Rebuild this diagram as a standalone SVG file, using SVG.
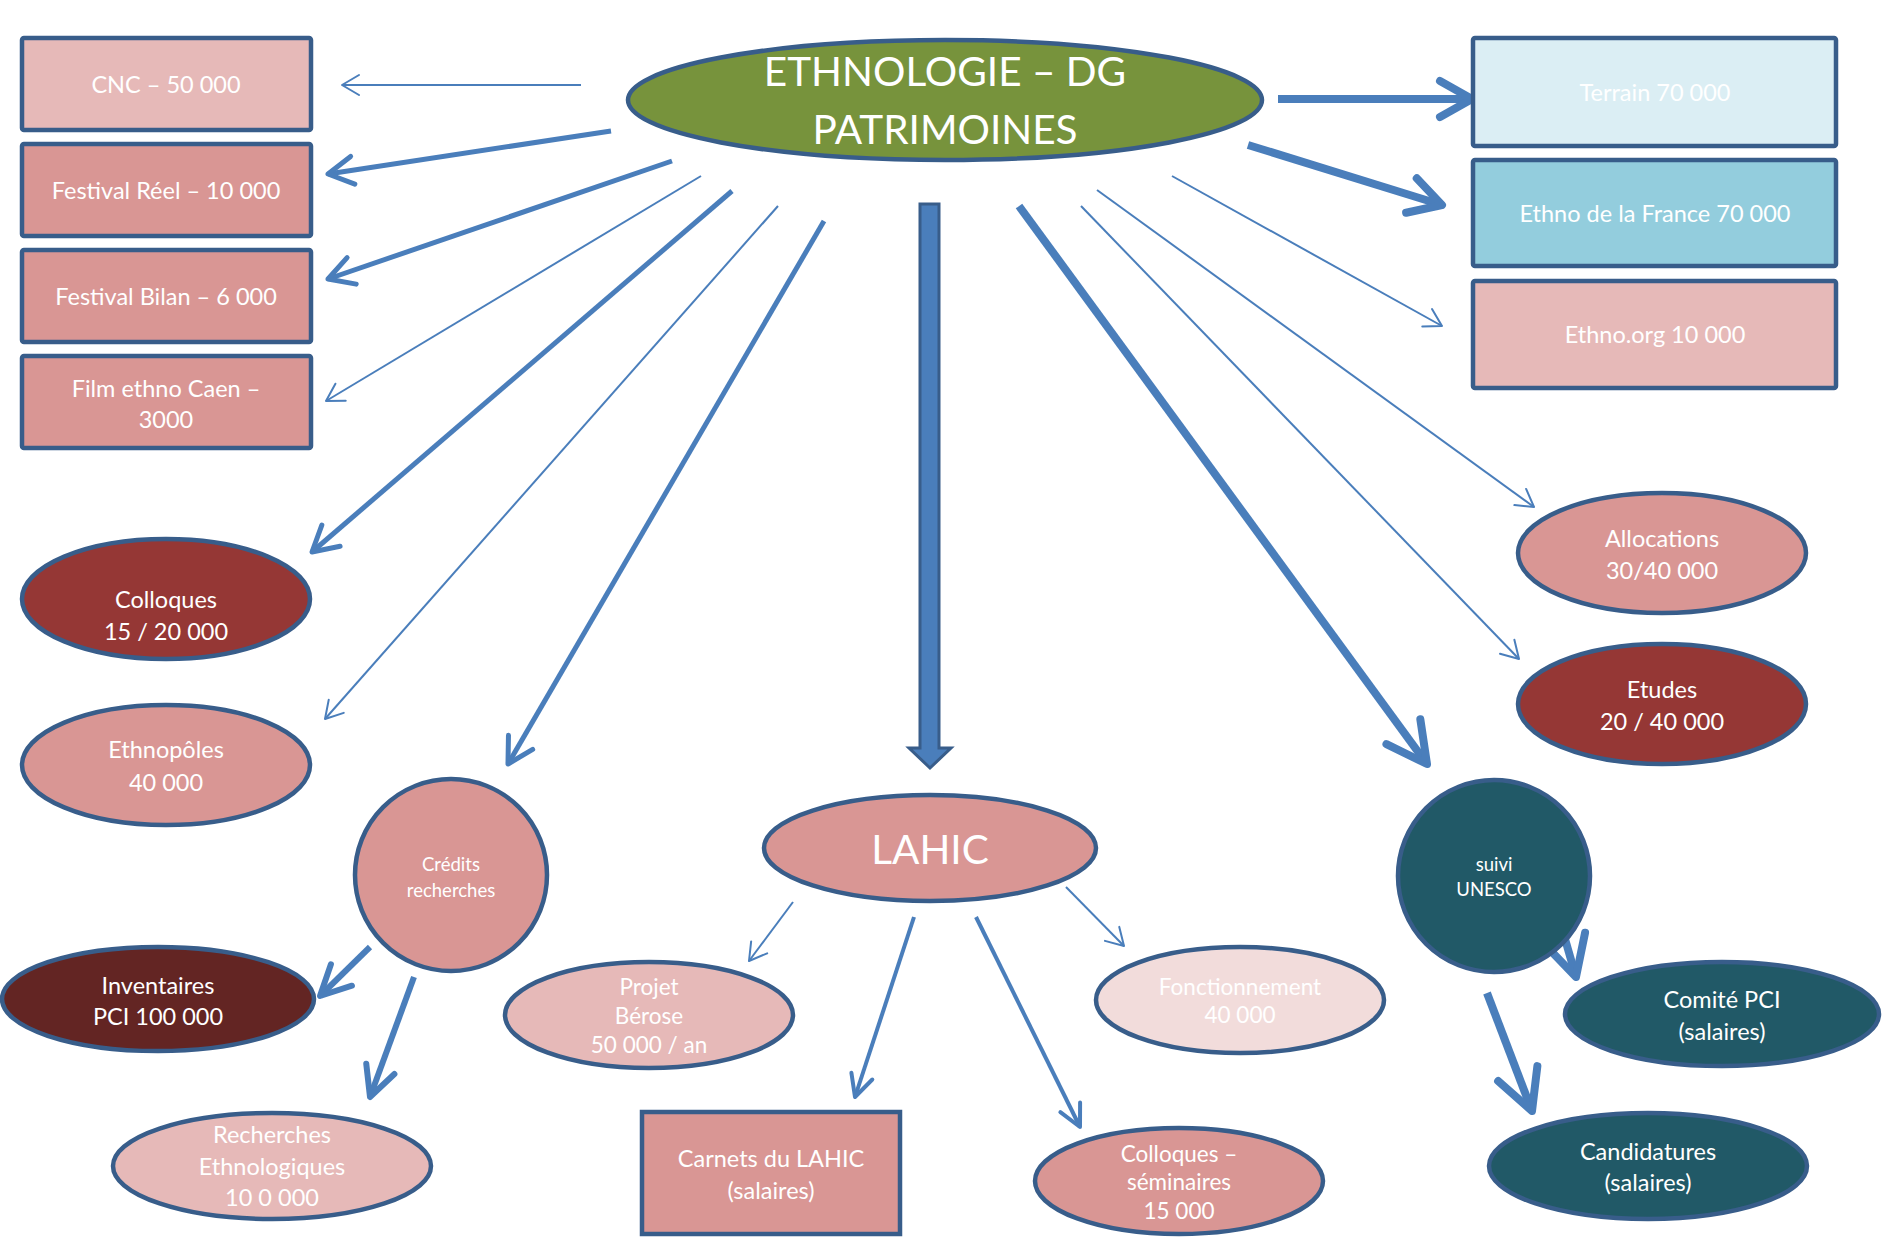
<svg xmlns="http://www.w3.org/2000/svg" width="1882" height="1239" viewBox="0 0 1882 1239">
<style>
.n{stroke:#385D8A;stroke-width:4.5}
.t{font-family:Lato,"Open Sans","Liberation Sans",sans-serif;fill:#FFFFFF;text-anchor:middle;font-size:23.5px}
.s{font-size:22.5px}
.x{font-size:18.5px}
.c{stroke:#4A7EBB;fill:none;stroke-linecap:butt}
.w2{stroke-width:2}
.w4{stroke-width:4}
.w5{stroke-width:5}
.w6{stroke-width:6}
.w8{stroke-width:8}
.ah{fill:none;stroke:#4A7EBB;stroke-linecap:round;stroke-linejoin:round}
</style>
<defs>
<marker id="aThin" markerUnits="userSpaceOnUse" viewBox="0 0 17 20" refX="17" refY="10" markerWidth="17" markerHeight="20" orient="auto" overflow="visible"><path class="ah" d="M0,0 L17,10 L0,20" stroke-width="2"/></marker>
<marker id="aMid" markerUnits="userSpaceOnUse" viewBox="0 0 22 22" refX="22" refY="11" markerWidth="22" markerHeight="22" orient="auto" overflow="visible"><path class="ah" d="M0,0 L22,11 L0,22" stroke-width="4"/></marker>
<marker id="aMed" markerUnits="userSpaceOnUse" viewBox="0 0 25 28" refX="25" refY="14" markerWidth="25" markerHeight="28" orient="auto" overflow="visible"><path class="ah" d="M0,0 L25,14 L0,28" stroke-width="5"/></marker>
<marker id="aMed6" markerUnits="userSpaceOnUse" viewBox="0 0 30 30" refX="30" refY="15" markerWidth="30" markerHeight="30" orient="auto" overflow="visible"><path class="ah" d="M0,0 L30,15 L0,30" stroke-width="6"/></marker>
<marker id="aBig" markerUnits="userSpaceOnUse" viewBox="0 0 32 36" refX="32" refY="18" markerWidth="32" markerHeight="36" orient="auto" overflow="visible"><path class="ah" d="M0,0 L32,18 L0,36" stroke-width="8"/></marker>
<marker id="aHuge" markerUnits="userSpaceOnUse" viewBox="0 0 40 42" refX="40" refY="21" markerWidth="40" markerHeight="42" orient="auto" overflow="visible"><path class="ah" d="M0,0 L40,21 L0,42" stroke-width="8"/></marker>
</defs>
<rect width="1882" height="1239" fill="#FFFFFF"/>

<g id="connectors">
<line class="c w2" x1="581" y1="85" x2="342" y2="85" marker-end="url(#aThin)"/>
<line class="c w5" x1="611" y1="131" x2="328" y2="174" marker-end="url(#aMed)"/>
<line class="c w5" x1="672" y1="161" x2="328" y2="279" marker-end="url(#aMed)"/>
<line class="c w2" x1="701" y1="176" x2="326" y2="401" marker-end="url(#aThin)"/>
<line class="c w5" x1="732" y1="191" x2="312" y2="552" marker-end="url(#aMed)"/>
<line class="c w2" x1="778" y1="206" x2="325" y2="719" marker-end="url(#aThin)"/>
<line class="c w5" x1="824" y1="221" x2="508" y2="764" marker-end="url(#aMed)"/>
<polygon points="920,204 939,204 939,748 951,748 930,768 909,748 920,748" fill="#4A7EBB" stroke="#385D8A" stroke-width="3" stroke-linejoin="miter"/>
<line class="c w8" x1="1019" y1="206" x2="1427" y2="764" marker-end="url(#aHuge)"/>
<line class="c w2" x1="1081" y1="206" x2="1519" y2="659" marker-end="url(#aThin)"/>
<line class="c w2" x1="1097" y1="190" x2="1534" y2="507" marker-end="url(#aThin)"/>
<line class="c w2" x1="1172" y1="176" x2="1442" y2="326" marker-end="url(#aThin)"/>
<line class="c w8" x1="1248" y1="145" x2="1442" y2="205" marker-end="url(#aBig)"/>
<line class="c w8" x1="1278" y1="99" x2="1472" y2="99" marker-end="url(#aBig)"/>
<line class="c w6" x1="370" y1="947" x2="320" y2="996" marker-end="url(#aMed6)"/>
<line class="c w6" x1="414" y1="977" x2="370" y2="1097" marker-end="url(#aMed6)"/>
<line class="c w2" x1="793" y1="902" x2="749" y2="961" marker-end="url(#aThin)"/>
<line class="c w4" x1="914" y1="917" x2="855" y2="1097" marker-end="url(#aMid)"/>
<line class="c w4" x1="976" y1="917" x2="1080" y2="1127" marker-end="url(#aMid)"/>
<line class="c w2" x1="1066" y1="887" x2="1124" y2="946" marker-end="url(#aThin)"/>
<line class="c w8" x1="1563" y1="932" x2="1576" y2="977" marker-end="url(#aHuge)"/>
<line class="c w8" x1="1487" y1="993" x2="1532" y2="1111" marker-end="url(#aHuge)"/>
</g>

<g id="n-main"><ellipse class="n" cx="945" cy="100" rx="317" ry="60" fill="#77933C"/>
<text class="t" x="945" y="86" style="font-size:40.5px">ETHNOLOGIE – DG</text>
<text class="t" x="945" y="144" style="font-size:40.5px">PATRIMOINES</text></g>

<g id="n-cnc"><rect class="n" x="22" y="38" width="289" height="92" rx="2" fill="#E6B9B8"/>
<text class="t" x="166" y="93">CNC – 50 000</text></g>
<g id="n-reel"><rect class="n" x="22" y="144" width="289" height="92" rx="2" fill="#D99694"/>
<text class="t" x="166" y="199">Festival Réel – 10 000</text></g>
<g id="n-bilan"><rect class="n" x="22" y="250" width="289" height="92" rx="2" fill="#D99694"/>
<text class="t" x="166" y="305">Festival Bilan – 6 000</text></g>
<g id="n-film"><rect class="n" x="22" y="356" width="289" height="92" rx="2" fill="#D99694"/>
<text class="t" x="166" y="397">Film ethno Caen –</text>
<text class="t" x="166" y="428">3000</text></g>

<g id="n-terrain"><rect class="n" x="1473" y="38" width="363" height="108" rx="2" fill="#DBEEF4"/>
<text class="t" x="1655" y="101">Terrain 70 000</text></g>
<g id="n-france"><rect class="n" x="1473" y="160" width="363" height="106" rx="2" fill="#93CDDD"/>
<text class="t" x="1655" y="222">Ethno de la France 70 000</text></g>
<g id="n-org"><rect class="n" x="1473" y="281" width="363" height="107" rx="2" fill="#E6B9B8"/>
<text class="t" x="1655" y="343">Ethno.org 10 000</text></g>

<g id="n-colloques"><ellipse class="n" cx="166" cy="599" rx="144" ry="60" fill="#953735"/>
<text class="t" x="166" y="608">Colloques</text>
<text class="t" x="166" y="640">15 / 20 000</text></g>
<g id="n-ethnopoles"><ellipse class="n" cx="166" cy="765" rx="144" ry="60" fill="#D99694"/>
<text class="t" x="166" y="758">Ethnopôles</text>
<text class="t" x="166" y="791">40 000</text></g>

<g id="n-credits"><ellipse class="n" cx="451" cy="875" rx="96" ry="96" fill="#D99694"/>
<text class="t x" x="451" y="871">Crédits</text>
<text class="t x" x="451" y="897">recherches</text></g>
<g id="n-inventaires"><ellipse class="n" cx="158" cy="999" rx="156" ry="52" fill="#632523"/>
<text class="t" x="158" y="994">Inventaires</text>
<text class="t" x="158" y="1025">PCI 100 000</text></g>
<g id="n-recherches"><ellipse class="n" cx="272" cy="1166" rx="159" ry="53" fill="#E6B9B8"/>
<text class="t" x="272" y="1143">Recherches</text>
<text class="t" x="272" y="1175">Ethnologiques</text>
<text class="t" x="272" y="1206">10 0 000</text></g>

<g id="n-lahic"><ellipse class="n" cx="930" cy="848" rx="166" ry="53" fill="#D99694"/>
<text class="t" x="930" y="864" style="font-size:40.5px">LAHIC</text></g>
<g id="n-berose"><ellipse class="n" cx="649" cy="1015" rx="144" ry="53" fill="#E6B9B8"/>
<text class="t s" x="649" y="995">Projet</text>
<text class="t s" x="649" y="1024">Bérose</text>
<text class="t s" x="649" y="1053">50 000 / an</text></g>
<g id="n-fonct"><ellipse class="n" cx="1240" cy="1000" rx="144" ry="53" fill="#F2DCDB"/>
<text class="t s" x="1240" y="995">Fonctionnement</text>
<text class="t s" x="1240" y="1023">40 000</text></g>
<g id="n-carnets"><rect class="n" x="642" y="1112" width="258" height="122" fill="#D99694"/>
<text class="t" x="771" y="1167">Carnets du LAHIC</text>
<text class="t" x="771" y="1199">(salaires)</text></g>
<g id="n-colsem"><ellipse class="n" cx="1179" cy="1181" rx="144" ry="53" fill="#D99694"/>
<text class="t s" x="1179" y="1162">Colloques –</text>
<text class="t s" x="1179" y="1190">séminaires</text>
<text class="t s" x="1179" y="1219">15 000</text></g>

<g id="n-allocations"><ellipse class="n" cx="1662" cy="553" rx="144" ry="60" fill="#D99694"/>
<text class="t" x="1662" y="547">Allocations</text>
<text class="t" x="1662" y="579">30/40 000</text></g>
<g id="n-etudes"><ellipse class="n" cx="1662" cy="704" rx="144" ry="60" fill="#953735"/>
<text class="t" x="1662" y="698">Etudes</text>
<text class="t" x="1662" y="730">20 / 40 000</text></g>

<g id="n-unesco"><ellipse class="n" cx="1494" cy="876" rx="96" ry="96" fill="#215967"/>
<text class="t x" x="1494" y="871">suivi</text>
<text class="t x" x="1494" y="896">UNESCO</text></g>
<g id="n-comite"><ellipse class="n" cx="1722" cy="1014" rx="157" ry="52" fill="#215967"/>
<text class="t" x="1722" y="1008">Comité PCI</text>
<text class="t" x="1722" y="1040">(salaires)</text></g>
<g id="n-candidatures"><ellipse class="n" cx="1648" cy="1166" rx="159" ry="53" fill="#215967"/>
<text class="t" x="1648" y="1160">Candidatures</text>
<text class="t" x="1648" y="1191">(salaires)</text></g>
</svg>
